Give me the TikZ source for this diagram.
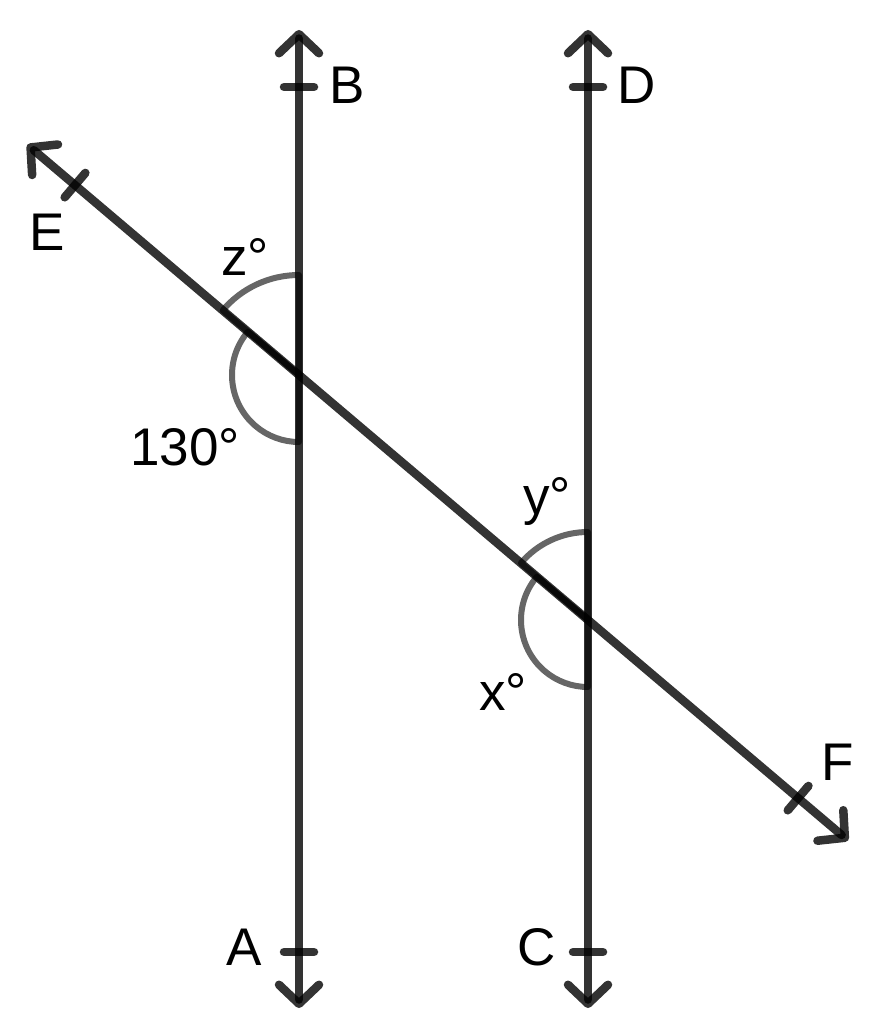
\documentclass[tikz,border=0pt]{standalone}
\usepackage{fontspec}
\setmainfont{Liberation Sans}
\usetikzlibrary{arrows.meta,calc,positioning}

\begin{document}
\begin{tikzpicture}[
    x=0.5pt, y=0.5pt,
    main_line/.style={draw=black, draw opacity=0.8, line width=4.25pt, line cap=round, {Straight Barb[length=9.5pt,width=20pt,line width=4.25pt,round]}-{Straight Barb[length=9.5pt,width=20pt,line width=4.25pt,round]}},
    tick_mark/.style={draw=black, draw opacity=0.8, line width=4.25pt, line cap=round},
    angle_mark/.style={draw=black, draw opacity=0.6, line width=3pt, line join=round},
    point_label/.style={anchor=base, inner sep=0pt, font=\fontsize{26.5}{30}\selectfont}
]

% Frame
\useasboundingbox (0,0) rectangle (879,-1033);

% Intersections
\coordinate (P) at (299,-375);
\coordinate (Q) at (588,-620);

% Line ends
\coordinate (top1) at (299,-30);
\coordinate (bot1) at (299,-1008);
\coordinate (top2) at (588,-30);
\coordinate (bot2) at (588,-1008);
\coordinate (Eend) at ($(P)!-0.94!(Q)$);
\coordinate (Fend) at ($(P)!1.90!(Q)$);

% Marked points
\coordinate (B) at (299,-87);
\coordinate (A) at (299,-952);
\coordinate (D) at (588,-87);
\coordinate (C) at (588,-952);
\coordinate (E) at ($(P)!-0.775!(Q)$);
\coordinate (F) at ($(P)!1.727!(Q)$);

% Angle marks
\draw[angle_mark] (P) -- ++(90:100) arc[start angle=90, end angle=139.7, radius=100] -- cycle;
\draw[angle_mark] (P) -- ++(139.7:67) arc[start angle=139.7, end angle=270, radius=67] -- cycle;
\draw[angle_mark] (Q) -- ++(90:88) arc[start angle=90, end angle=139.7, radius=88] -- cycle;
\draw[angle_mark] (Q) -- ++(139.7:67) arc[start angle=139.7, end angle=270, radius=67] -- cycle;

% Lines AB, CD and EF
\draw[main_line] (bot1) -- (top1);
\draw[main_line] (bot2) -- (top2);
\draw[main_line] (Eend) -- (Fend);

% Ticks
\foreach \p in {A,B,C,D}
    \draw[tick_mark] ($(\p)+(-15,0)$) -- ($(\p)+(15,0)$);
\foreach \p/\q in {E/P,F/Q}
    \draw[tick_mark] ($(\p)!8pt!90:(\q)$) -- ($(\p)!8pt!-90:(\q)$);

% Labels
\node[point_label] (labB) at (347,-103) {B};
\node[point_label] (labD) at (637,-103) {D};
\node[point_label] (labE) at (47,-250) {E};
\node[point_label] (labF) at (838,-780) {F};
\node[point_label] (labA) at (244,-965) {A};
\node[point_label] (labC) at (537,-965) {C};
\node[point_label] (labz) at (245,-275) {z°};
\node[point_label] (lab130) at (185,-465) {130°};
\node[point_label] (laby) at (547,-514) {y°};
\node[point_label] (labx) at (503,-710) {x°};

\end{tikzpicture}
\end{document}
